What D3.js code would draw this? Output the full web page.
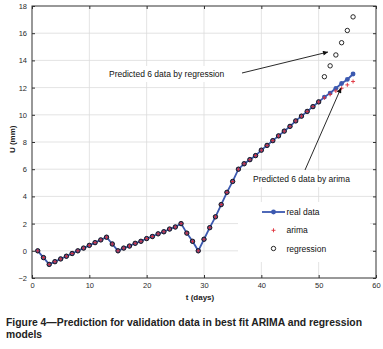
<!DOCTYPE html>
<html lang="en">
<head>
    <meta charset="UTF-8">
    <title>Figure 4 - ARIMA and regression prediction</title>
    <script src="https://d3js.org/d3.v7.min.js"></script>
    <style>
        body { margin: 0; background: #fff; }
        text { font-family: "Liberation Sans", Arial, sans-serif; }
    </style>
</head>
<body>
    <div id="my_dataviz"></div>
    <script>
        // data (t in days, U in mm)
        const days = d3.range(1, 57);
        const realData = [
            0, -0.5, -1.0, -0.8, -0.6, -0.4, -0.2, 0.0, 0.2, 0.4,
            0.6, 0.8, 1.0, 0.5, 0.0, 0.2, 0.35, 0.55, 0.7, 0.9,
            1.05, 1.25, 1.4, 1.6, 1.75, 2.0, 1.3, 0.7, 0.0, 0.85,
            1.7, 2.5, 3.4, 4.3, 5.1, 6.0, 6.4, 6.7, 7.0, 7.4,
            7.75, 8.1, 8.45, 8.8, 9.15, 9.55, 9.9, 10.25, 10.6, 10.95,
            11.3, 11.6, 11.95, 12.3, 12.6, 13.0
        ];
        // fitted values follow the data up to day 50, then the 6 predictions
        const arimaPred = [11.25, 11.5, 11.75, 11.95, 12.2, 12.45];
        const regressionPred = [12.8, 13.6, 14.4, 15.3, 16.2, 17.2];
        const arimaData = realData.slice(0, 50).concat(arimaPred);
        const regressionData = realData.slice(0, 50).concat(regressionPred);

        const xTicks = [0, 10, 20, 30, 40, 50, 60];
        const yTicks = [-2, 0, 2, 4, 6, 8, 10, 12, 14, 16, 18];
        const legendLabels = ["real data", "arima", "regression"];

        const margin = { top: 6, right: 7, bottom: 71, left: 32 },
            width = 383 - margin.left - margin.right,
            height = 349 - margin.top - margin.bottom;

        const root = d3.select("#my_dataviz")
            .append("svg")
            .attr("width", 383)
            .attr("height", 349);

        const svg = root.append("g")
            .attr("transform", `translate(${margin.left},${margin.top})`);

        const x = d3.scaleLinear().domain([0, 60]).range([0, width]);
        const y = d3.scaleLinear().domain([-2, 18]).range([height, 0]);

        // grid
        svg.append("g").selectAll("line.gx")
            .data(xTicks.slice(1, -1))
            .enter().append("line")
            .attr("x1", d => x(d)).attr("x2", d => x(d))
            .attr("y1", 0).attr("y2", height)
            .attr("stroke", "#dcdcdc").attr("stroke-width", 0.8);
        svg.append("g").selectAll("line.gy")
            .data(yTicks.slice(1, -1))
            .enter().append("line")
            .attr("x1", 0).attr("x2", width)
            .attr("y1", d => y(d)).attr("y2", d => y(d))
            .attr("stroke", "#dcdcdc").attr("stroke-width", 0.8);

        // white boxes behind legend and annotations
        svg.append("rect").attr("x", 206).attr("y", 196).attr("width", 132).attr("height", 60).attr("fill", "#fff");
        svg.append("rect").attr("x", 74).attr("y", 60).attr("width", 138).attr("height", 16).attr("fill", "#fff");
        svg.append("rect").attr("x", 218).attr("y", 165).attr("width", 116).attr("height", 16).attr("fill", "#fff");

        // axes, ticks inward
        const tickFont = g => g.selectAll("text")
            .style("font-size", "7.5px").attr("fill", "#2a2a2a");
        svg.append("g")
            .attr("transform", `translate(0,${height})`)
            .call(d3.axisBottom(x).tickValues(xTicks).tickSize(-3).tickPadding(5))
            .call(tickFont)
            .call(g => g.select(".domain").remove());
        svg.append("g")
            .call(d3.axisLeft(y).tickValues(yTicks).tickSize(-3).tickPadding(5))
            .call(tickFont)
            .call(g => g.select(".domain").remove());
        svg.append("g")
            .call(d3.axisTop(x).tickValues(xTicks).tickSize(-3).tickFormat(""))
            .call(g => g.select(".domain").remove());
        svg.append("g")
            .attr("transform", `translate(${width},0)`)
            .call(d3.axisRight(y).tickValues(yTicks).tickSize(-3).tickFormat(""))
            .call(g => g.select(".domain").remove());
        svg.selectAll(".tick line").attr("stroke", "#333");

        svg.append("rect")
            .attr("width", width).attr("height", height)
            .attr("fill", "none").attr("stroke", "#333").attr("stroke-width", 1);

        // axis labels
        svg.append("text")
            .attr("x", 168).attr("y", height + 22)
            .attr("text-anchor", "middle")
            .style("font-size", "8px").style("font-weight", "bold").attr("fill", "#222")
            .text("t (days)");
        svg.append("text")
            .attr("transform", `translate(-17,${y(8.2)}) rotate(-90)`)
            .attr("text-anchor", "middle")
            .style("font-size", "8px").style("font-weight", "bold").attr("fill", "#222")
            .text("U (mm)");

        const blue = "#3c59b0";

        // real data line + dots
        svg.append("path")
            .datum(days)
            .attr("fill", "none")
            .attr("stroke", blue)
            .attr("stroke-width", 1.8)
            .attr("d", d3.line().x(d => x(d)).y((d, i) => y(realData[i])));
        svg.append("g").selectAll("circle")
            .data(days)
            .enter().append("circle")
            .attr("cx", d => x(d)).attr("cy", (d, i) => y(realData[i]))
            .attr("r", 2.4).attr("fill", blue);

        // arima "+"
        const plus = svg.append("g").attr("stroke", "#e0303a").attr("stroke-width", 0.9);
        plus.selectAll("line.h").data(days).enter().append("line")
            .attr("x1", d => x(d) - 2).attr("x2", d => x(d) + 2)
            .attr("y1", (d, i) => y(arimaData[i])).attr("y2", (d, i) => y(arimaData[i]));
        plus.selectAll("line.v").data(days).enter().append("line")
            .attr("x1", d => x(d)).attr("x2", d => x(d))
            .attr("y1", (d, i) => y(arimaData[i]) - 2).attr("y2", (d, i) => y(arimaData[i]) + 2);

        // regression "o"
        svg.append("g").selectAll("circle")
            .data(days)
            .enter().append("circle")
            .attr("cx", d => x(d)).attr("cy", (d, i) => y(regressionData[i]))
            .attr("r", 2.2).attr("fill", "none")
            .attr("stroke", "#111").attr("stroke-width", 0.9);

        // arrows
        root.append("defs").append("marker")
            .attr("id", "arrow")
            .attr("viewBox", "0 0 10 10")
            .attr("refX", 10).attr("refY", 5)
            .attr("markerWidth", 7).attr("markerHeight", 5)
            .attr("markerUnits", "userSpaceOnUse")
            .attr("orient", "auto")
            .append("path").attr("d", "M0,0L10,5L0,10Z").attr("fill", "#111");

        svg.append("line")
            .attr("x1", 210).attr("y1", 67).attr("x2", 296).attr("y2", 46)
            .attr("stroke", "#111").attr("stroke-width", 0.9)
            .attr("marker-end", "url(#arrow)");
        svg.append("line")
            .attr("x1", 273).attr("y1", 164).attr("x2", 309).attr("y2", 82)
            .attr("stroke", "#111").attr("stroke-width", 0.9)
            .attr("marker-end", "url(#arrow)");

        svg.append("text")
            .attr("x", 77).attr("y", 71)
            .style("font-size", "8.5px").attr("fill", "#111")
            .text("Predicted 6 data by regression");
        svg.append("text")
            .attr("x", 221).attr("y", 175.5)
            .style("font-size", "8.5px").attr("fill", "#111")
            .text("Predicted 6 data by arima");

        // legend
        const lg = svg.append("g").attr("transform", "translate(230,206)");
        lg.append("line").attr("x1", 0).attr("x2", 23).attr("y1", 0).attr("y2", 0)
            .attr("stroke", blue).attr("stroke-width", 1.8);
        lg.append("circle").attr("cx", 11.5).attr("cy", 0).attr("r", 2.4).attr("fill", blue);
        lg.append("line").attr("x1", 9.5).attr("x2", 13.5).attr("y1", 18.3).attr("y2", 18.3)
            .attr("stroke", "#e0303a").attr("stroke-width", 0.9);
        lg.append("line").attr("x1", 11.5).attr("x2", 11.5).attr("y1", 16.3).attr("y2", 20.3)
            .attr("stroke", "#e0303a").attr("stroke-width", 0.9);
        lg.append("circle").attr("cx", 11.5).attr("cy", 36.5).attr("r", 2.2)
            .attr("fill", "none").attr("stroke", "#111").attr("stroke-width", 0.9);
        lg.selectAll("text")
            .data(legendLabels)
            .enter().append("text")
            .attr("x", 24.5).attr("y", (d, i) => i * 18.3 + 3)
            .style("font-size", "8.5px").attr("fill", "#111")
            .text(d => d);

        // caption
        root.append("text")
            .attr("x", 6).attr("y", 326)
            .attr("textLength", 356).attr("lengthAdjust", "spacingAndGlyphs")
            .style("font-size", "10.3px").style("font-weight", "bold").attr("fill", "#222")
            .text("Figure 4\u2014Prediction for validation data in best fit ARIMA and regression");
        root.append("text")
            .attr("x", 6).attr("y", 338)
            .style("font-size", "10.3px").style("font-weight", "bold").attr("fill", "#222")
            .text("models");
    </script>
</body>
</html>
